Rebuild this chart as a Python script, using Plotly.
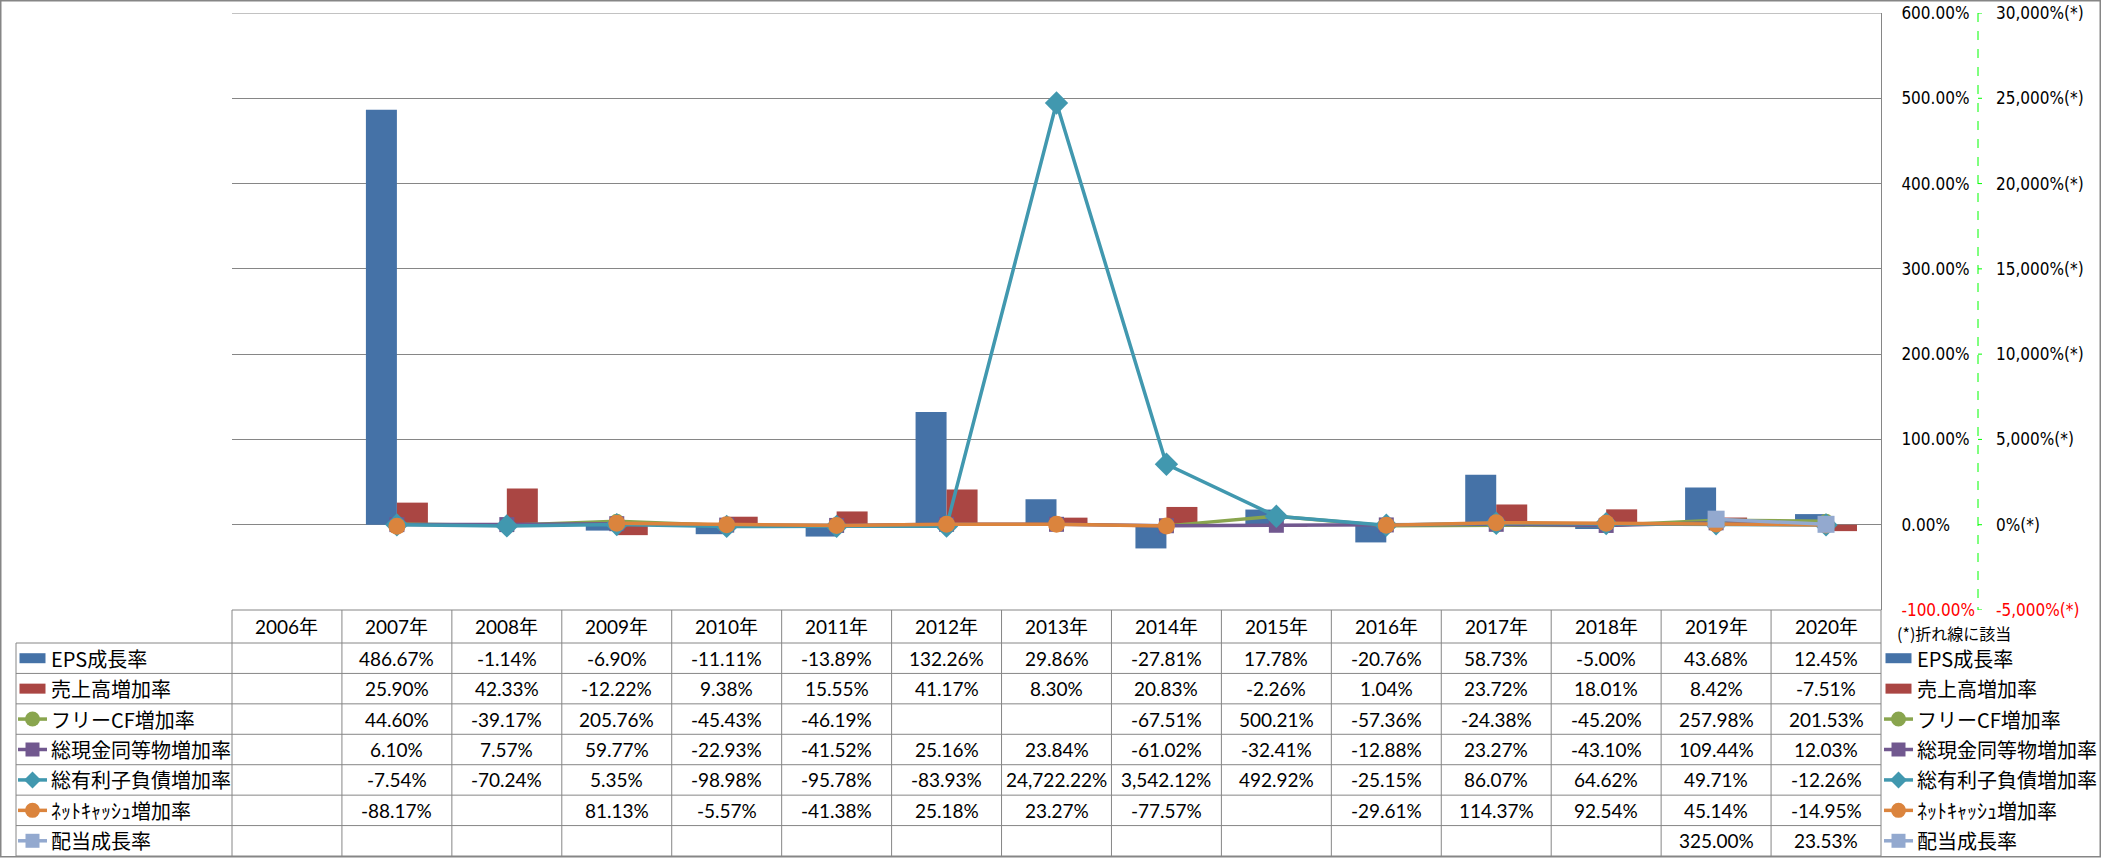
import plotly.graph_objects as go

# ---------------- data ----------------
years = ["2006年", "2007年", "2008年", "2009年", "2010年", "2011年", "2012年", "2013年",
         "2014年", "2015年", "2016年", "2017年", "2018年", "2019年", "2020年"]

eps_growth = [None, 486.67, -1.14, -6.90, -11.11, -13.89, 132.26, 29.86, -27.81, 17.78,
              -20.76, 58.73, -5.00, 43.68, 12.45]
sales_growth = [None, 25.90, 42.33, -12.22, 9.38, 15.55, 41.17, 8.30, 20.83, -2.26,
                1.04, 23.72, 18.01, 8.42, -7.51]
fcf_growth = [None, 44.60, -39.17, 205.76, -45.43, -46.19, None, None, -67.51, 500.21,
              -57.36, -24.38, -45.20, 257.98, 201.53]
cash_growth = [None, 6.10, 7.57, 59.77, -22.93, -41.52, 25.16, 23.84, -61.02, -32.41,
               -12.88, 23.27, -43.10, 109.44, 12.03]
debt_growth = [None, -7.54, -70.24, 5.35, -98.98, -95.78, -83.93, 24722.22, 3542.12, 492.92,
               -25.15, 86.07, 64.62, 49.71, -12.26]
netcash_growth = [None, -88.17, None, 81.13, -5.57, -41.38, 25.18, 23.27, -77.57, None,
                  -29.61, 114.37, 92.54, 45.14, -14.95]
dividend_growth = [None, None, None, None, None, None, None, None, None, None,
                   None, None, None, 325.00, 23.53]

series_names = ["EPS成長率", "売上高増加率", "フリーCF増加率", "総現金同等物増加率",
                "総有利子負債増加率", "ﾈｯﾄｷｬｯｼｭ増加率", "配当成長率"]

bar_axis_ticks = [-100, 0, 100, 200, 300, 400, 500, 600]
bar_axis_labels = ["-100.00%", "0.00%", "100.00%", "200.00%", "300.00%", "400.00%",
                   "500.00%", "600.00%"]
line_axis_ticks = [-5000, 0, 5000, 10000, 15000, 20000, 25000, 30000]
line_axis_labels = ["-5,000%(*)", "0%(*)", "5,000%(*)", "10,000%(*)", "15,000%(*)",
                    "20,000%(*)", "25,000%(*)", "30,000%(*)"]
note_text = "(*)折れ線に該当"

# ---------------- styling ----------------
W, H = 2101, 858
L, R = 232, 1881      # plot area (px)
T, B = 13, 610
GRAY = "#868686"
colors = ["#4572A7", "#AA4643", "#89A54E", "#71588F", "#4198AF", "#DB843D", "#93A9CF"]
kinds = ["bar", "bar", "circle", "square", "diamond", "circle", "square"]
msizes = [0, 0, 15, 15, 18, 17, 17]
TABLE_FONT = "Lato, 'Noto Sans CJK JP', sans-serif"
LABEL_FONT = "'Noto Sans CJK JP', Lato, sans-serif"
AXIS_FONT = "'DejaVu Sans Condensed', 'Noto Sans', sans-serif"


def xp(px):
    return (px - L) / (R - L)


def yp(py):
    return (B - py) / (B - T)


all_series = [eps_growth, sales_growth, fcf_growth, cash_growth, debt_growth,
              netcash_growth, dividend_growth]

fig = go.Figure()
fig.add_trace(go.Bar(x=years, y=eps_growth, name=series_names[0],
                     marker=dict(color=colors[0], line=dict(width=0))))
fig.add_trace(go.Bar(x=years, y=sales_growth, name=series_names[1],
                     marker=dict(color=colors[1], line=dict(width=0))))

for k in range(2, 7):
    fig.add_trace(go.Scatter(
        x=years, y=all_series[k], name=series_names[k], yaxis="y2",
        mode="lines+markers", connectgaps=False,
        line=dict(color=colors[k], width=3.5),
        marker=dict(symbol=kinds[k], size=msizes[k], color=colors[k],
                    line=dict(width=0)),
    ))

ticktext1 = [("<span style='color:#FF0000'>%s</span>" % t) if v < 0 else t
             for v, t in zip(bar_axis_ticks, bar_axis_labels)]
ticktext2 = [("<span style='color:#FF0000'>%s</span>" % t) if v < 0 else t
             for v, t in zip(line_axis_ticks, line_axis_labels)]

fig.update_layout(
    width=W, height=H, autosize=False,
    margin=dict(l=L, r=W - R, t=T, b=H - B, pad=0, autoexpand=False),
    paper_bgcolor="white", plot_bgcolor="white",
    barmode="group", bargap=0.436, bargroupgap=0,
    showlegend=False,
    xaxis=dict(type="category", range=[-0.5, 14.5], showticklabels=False,
               showgrid=False, zeroline=False, ticks="", showline=False,
               automargin=False, domain=[0, 1]),
    yaxis=dict(range=[-100, 600], side="right", tickvals=bar_axis_ticks,
               ticktext=ticktext1, showgrid=True, gridcolor=GRAY, gridwidth=1,
               zeroline=False, showline=True, linecolor=GRAY, linewidth=1,
               ticks="", ticklabelstandoff=16, automargin=False, domain=[0, 1],
               tickfont=dict(family=AXIS_FONT, size=17, color="black")),
    yaxis2=dict(range=[-5000, 30000], overlaying="y", side="right", anchor="x",
                tickvals=line_axis_ticks, ticktext=ticktext2, showgrid=False,
                zeroline=False, showline=False, ticks="", ticklabelstandoff=114,
                automargin=False,
                tickfont=dict(family=AXIS_FONT, size=17, color="black")),
)

shapes = []
annotations = []

# top gridline (range edge) drawn explicitly
shapes.append(dict(type="line", xref="paper", yref="y", x0=0, x1=1,
                   y0=bar_axis_ticks[-1], y1=bar_axis_ticks[-1], line=dict(color=GRAY, width=1)))

# green dashed secondary axis line with its ticks
GX = 1978
shapes.append(dict(type="line", xref="paper", yref="paper", x0=xp(GX), x1=xp(GX),
                   y0=yp(T), y1=yp(B), line=dict(color="#00FF00", width=1, dash="dash")))
for v in line_axis_ticks:
    shapes.append(dict(type="line", xref="paper", yref="y2", x0=xp(GX), x1=xp(GX + 4),
                       y0=v, y1=v, line=dict(color="#00FF00", width=1)))

# table geometry
HEAD_TOP, HEAD_BOT, TBL_BOT = 610, 643, 856
LBL_LEFT = 16
nrows = len(series_names)
row_h = (TBL_BOT - HEAD_BOT) / nrows
row_edges = [HEAD_BOT + i * row_h for i in range(nrows + 1)]
row_centers = [(row_edges[i] + row_edges[i + 1]) / 2 for i in range(nrows)]
ncol = len(years)

# vertical lines of year columns
for j in range(ncol + 1):
    shapes.append(dict(type="line", xref="paper", yref="paper", x0=j / ncol, x1=j / ncol,
                       y0=yp(HEAD_TOP), y1=yp(TBL_BOT), line=dict(color=GRAY, width=1)))
# header top
shapes.append(dict(type="line", xref="paper", yref="paper", x0=0, x1=1,
                   y0=yp(HEAD_TOP), y1=yp(HEAD_TOP), line=dict(color=GRAY, width=1)))
# row lines
for e in row_edges:
    shapes.append(dict(type="line", xref="paper", yref="paper", x0=xp(LBL_LEFT), x1=1,
                       y0=yp(e), y1=yp(e), line=dict(color=GRAY, width=1)))
# label column left border
shapes.append(dict(type="line", xref="paper", yref="paper", x0=xp(LBL_LEFT), x1=xp(LBL_LEFT),
                   y0=yp(HEAD_BOT), y1=yp(TBL_BOT), line=dict(color=GRAY, width=1)))
# outer chart border
shapes.append(dict(type="rect", xref="paper", yref="paper", x0=xp(0.75), x1=xp(2100.25),
                   y0=yp(0.75), y1=yp(856.75), line=dict(color=GRAY, width=1.5)))

# header labels
for j, yname in enumerate(years):
    annotations.append(dict(x=yname, xref="x", y=yp((HEAD_TOP + HEAD_BOT) / 2), yref="paper",
                            text=yname, showarrow=False, xanchor="center", yanchor="middle",
                            font=dict(family=TABLE_FONT, size=19, color="black")))

# cell values
for i, ser in enumerate(all_series):
    for j, v in enumerate(ser):
        if v is None:
            continue
        annotations.append(dict(x=years[j], xref="x", y=yp(row_centers[i]), yref="paper",
                                text="{:,.2f}%".format(v), showarrow=False,
                                xanchor="center", yanchor="middle",
                                font=dict(family=TABLE_FONT, size=19, color="black")))


def legend_symbol(xc, yc, k):
    col = colors[k]
    if kinds[k] == "bar":
        shapes.append(dict(type="rect", xref="paper", yref="paper", x0=xp(xc - 13), x1=xp(xc + 13),
                           y0=yp(yc - 5), y1=yp(yc + 5), fillcolor=col, line=dict(width=0)))
        return
    shapes.append(dict(type="line", xref="paper", yref="paper", x0=xp(xc - 14.5), x1=xp(xc + 14.5),
                       y0=yp(yc), y1=yp(yc), line=dict(color=col, width=3.5)))
    base = dict(xref="paper", yref="paper", xsizemode="pixel", ysizemode="pixel",
                xanchor=xp(xc), yanchor=yp(yc), fillcolor=col, line=dict(width=0))
    if kinds[k] == "circle":
        shapes.append(dict(base, type="circle", x0=-7.5, x1=7.5, y0=-7.5, y1=7.5))
    elif kinds[k] == "square":
        shapes.append(dict(base, type="rect", x0=-7, x1=7, y0=-7, y1=7))
    else:
        shapes.append(dict(base, type="path", path="M -8.5 0 L 0 -8.5 L 8.5 0 L 0 8.5 Z"))


for i, nm in enumerate(series_names):
    yc = row_centers[i]
    # left label column
    legend_symbol(32.5, yc, i)
    annotations.append(dict(x=xp(49), xref="paper", y=yp(yc), yref="paper", text=nm,
                            showarrow=False, xanchor="left", yanchor="middle",
                            font=dict(family=LABEL_FONT, size=20, color="black")))
    # right legend
    legend_symbol(1898.5, yc, i)
    annotations.append(dict(x=xp(1915), xref="paper", y=yp(yc), yref="paper", text=nm,
                            showarrow=False, xanchor="left", yanchor="middle",
                            font=dict(family=LABEL_FONT, size=20, color="black")))

annotations.append(dict(x=xp(1895), xref="paper", y=yp(633), yref="paper", text=note_text,
                        showarrow=False, xanchor="left", yanchor="middle",
                        font=dict(family=LABEL_FONT, size=16, color="black")))

fig.update_layout(shapes=shapes, annotations=annotations)

fig.write_html("out.html", config={"displayModeBar": False},
               post_script="document.body.style.margin='0';document.body.style.overflow='hidden';")
